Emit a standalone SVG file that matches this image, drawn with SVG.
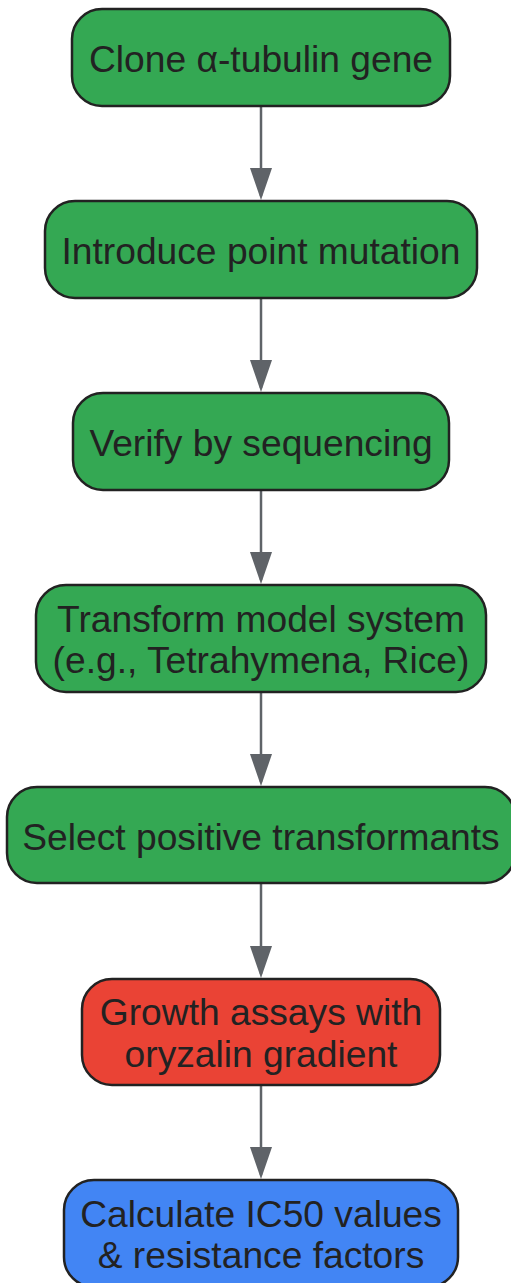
<svg xmlns="http://www.w3.org/2000/svg" width="511" height="1283" viewBox="0 0 511 1283">
<style>
.n{stroke:#222;stroke-width:2.5}
.g{fill:#34A853}.r{fill:#EA4335}.b{fill:#4285F4}
text{font-family:"Liberation Sans",Arial,sans-serif;font-size:37.2px;fill:#222;text-anchor:middle}
.e{stroke:#5f6368;stroke-width:2.5;fill:none}
</style>
<defs>
<marker id="ah" markerUnits="userSpaceOnUse" markerWidth="32" markerHeight="22" refX="28" refY="11" orient="auto" viewBox="0 0 32 22">
<path d="M0,0 L32,11 L0,22 Z" fill="#5f6368"/>
</marker>
</defs>
<g id="edges">
<path class="e" d="M261,106 V196" marker-end="url(#ah)"/>
<path class="e" d="M261,298 V388" marker-end="url(#ah)"/>
<path class="e" d="M261,490 V580" marker-end="url(#ah)"/>
<path class="e" d="M261,692 V782" marker-end="url(#ah)"/>
<path class="e" d="M261,883 V974" marker-end="url(#ah)"/>
<path class="e" d="M261,1085 V1175" marker-end="url(#ah)"/>
</g>
<g id="n1"><rect class="n g" x="72" y="9" width="378" height="97" rx="30"/><text x="261" y="72">Clone α-tubulin gene</text></g>
<g id="n2"><rect class="n g" x="45" y="201" width="432" height="97" rx="30"/><text x="261" y="264">Introduce point mutation</text></g>
<g id="n3"><rect class="n g" x="73" y="393" width="376" height="97" rx="30"/><text x="261" y="456">Verify by sequencing</text></g>
<g id="n4"><rect class="n g" x="36" y="585" width="450" height="107" rx="30"/><text x="261" y="632">Transform model system</text><text x="261" y="673">(e.g., Tetrahymena, Rice)</text></g>
<g id="n5"><rect class="n g" x="7" y="787" width="508" height="96" rx="30"/><text x="261" y="850">Select positive transformants</text></g>
<g id="n6"><rect class="n r" x="82" y="979" width="358" height="106" rx="30"/><text x="261" y="1025">Growth assays with</text><text x="261" y="1067">oryzalin gradient</text></g>
<g id="n7"><rect class="n b" x="64" y="1180" width="394" height="107" rx="30"/><text x="261" y="1227">Calculate IC50 values</text><text x="261" y="1268">&amp; resistance factors</text></g>
</svg>
